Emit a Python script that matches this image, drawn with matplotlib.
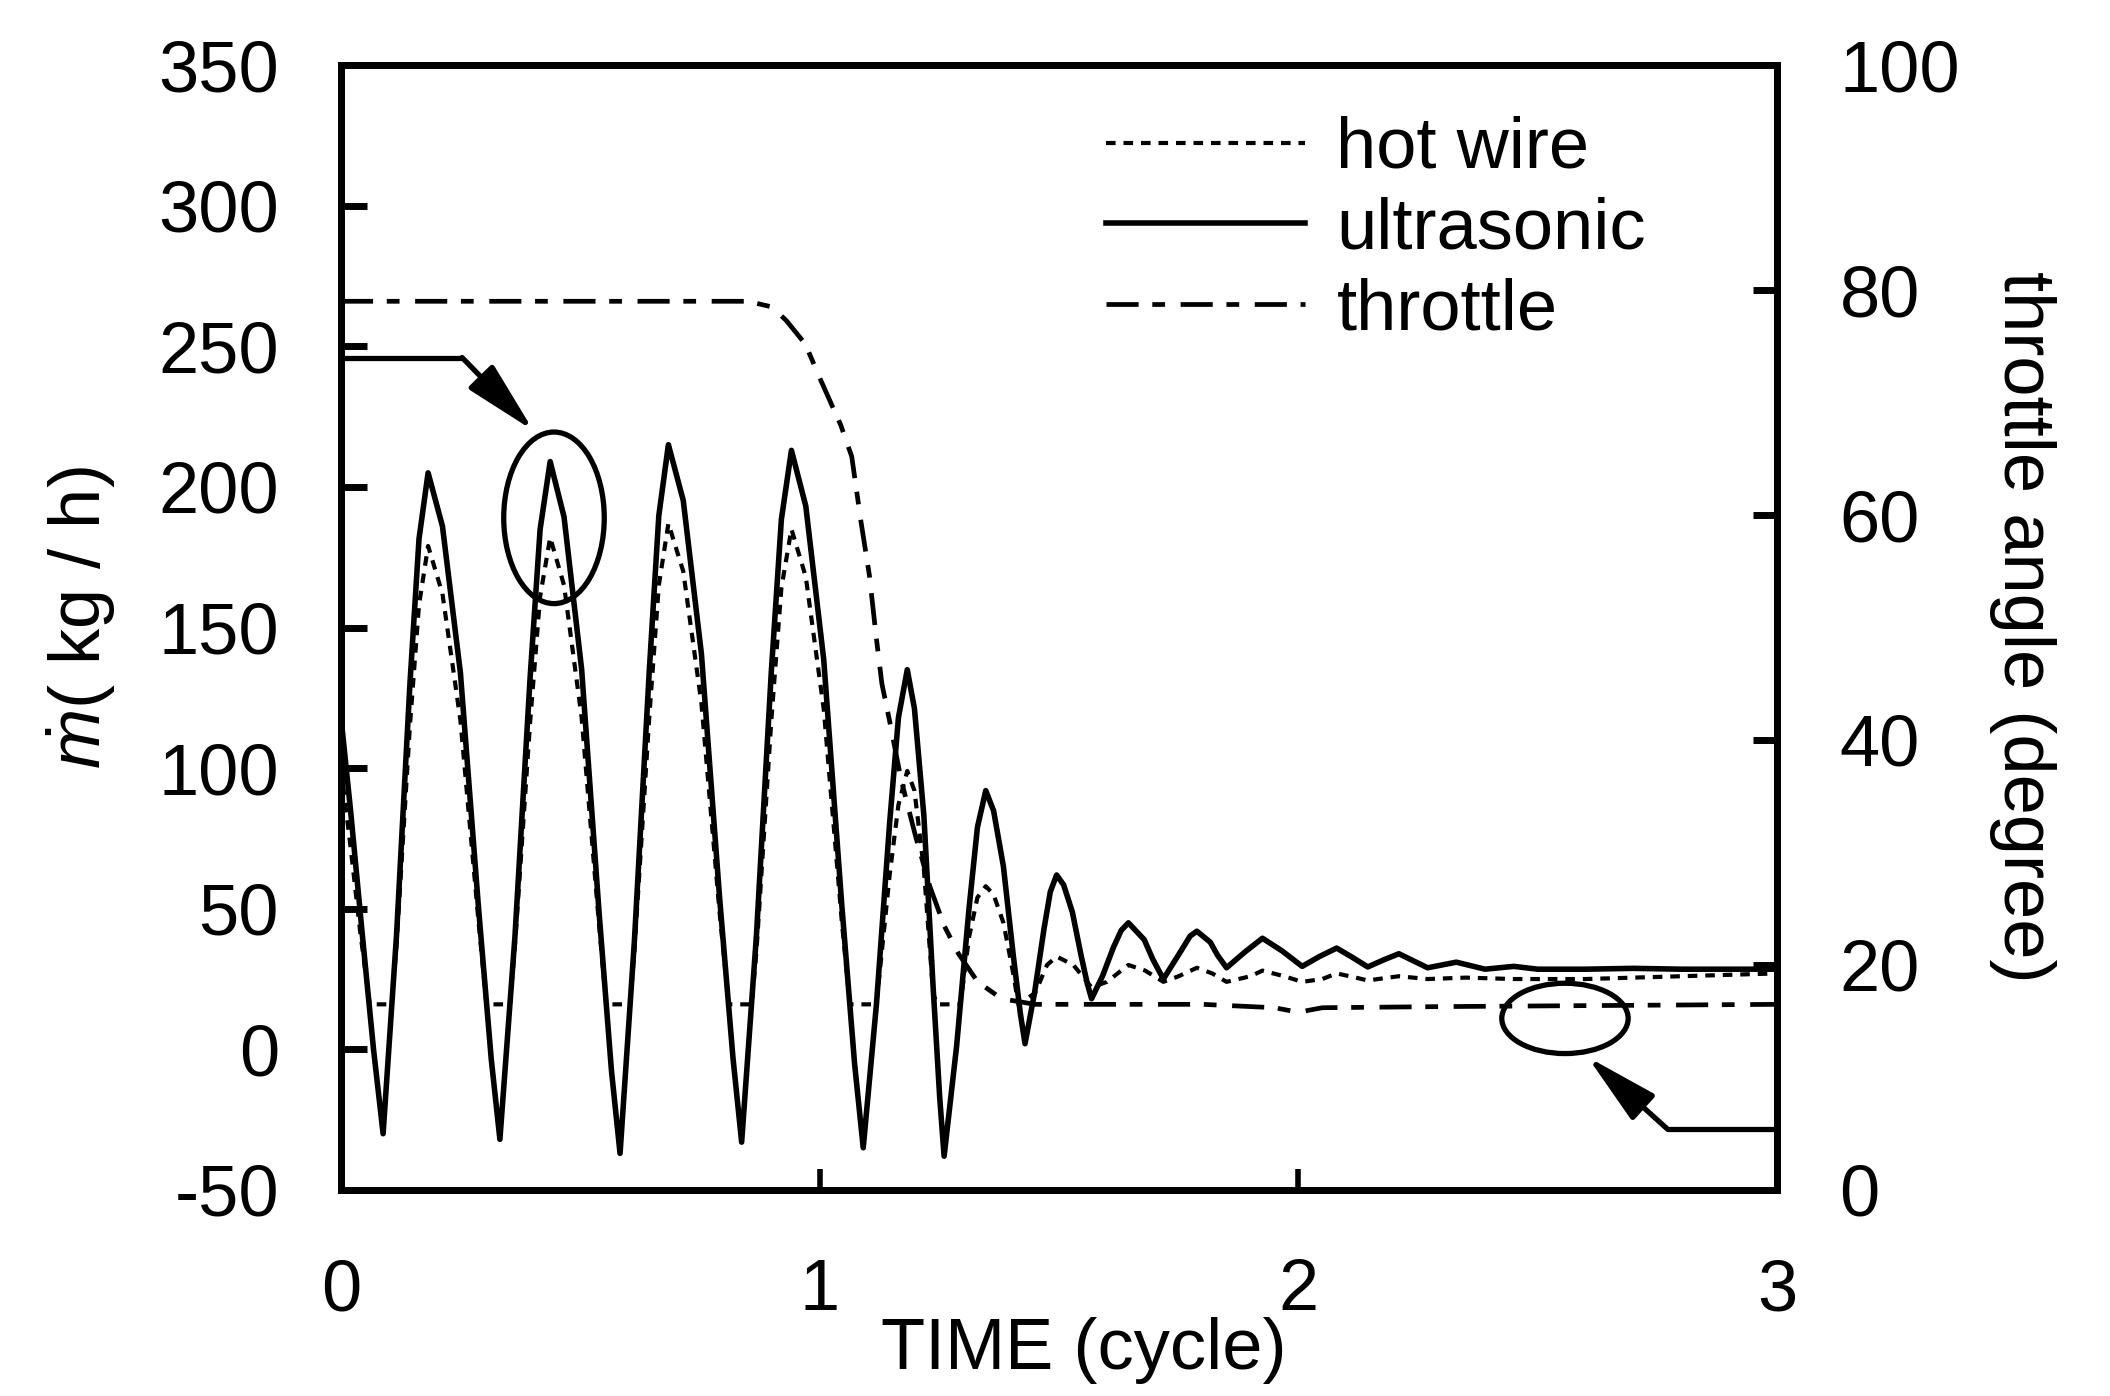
import matplotlib
matplotlib.use('Agg')
import matplotlib.pyplot as plt
from matplotlib.patches import Ellipse

plt.rcParams['font.family'] = ['Liberation Sans', 'DejaVu Sans']
plt.rcParams['mathtext.fontset'] = 'custom'
plt.rcParams['mathtext.it'] = 'Liberation Sans:italic'
plt.rcParams['mathtext.rm'] = 'Liberation Sans'

# ---------------- data ----------------
t_ultra = [0.000, 0.020, 0.045, 0.068, 0.088,
           0.116, 0.144, 0.163, 0.182,
           0.212, 0.2495, 0.287, 0.314, 0.332,
           0.3635, 0.395, 0.416, 0.437,
           0.466, 0.5027, 0.539, 0.565, 0.583,
           0.613, 0.644, 0.664, 0.684,
           0.715, 0.753, 0.791, 0.819, 0.837,
           0.868, 0.899, 0.920, 0.941,
           0.971, 1.0085, 1.046, 1.073, 1.091,
           1.1186, 1.1462, 1.1646, 1.183,
           1.198, 1.2177, 1.2369, 1.2508, 1.260,
           1.286, 1.3122, 1.3296, 1.347,
           1.3634, 1.3839, 1.4044, 1.4192, 1.429,
           1.4488, 1.4686, 1.4818, 1.495,
           1.5096, 1.5279, 1.5461, 1.5592, 1.568,
           1.591, 1.614, 1.630, 1.645,
           1.678, 1.696, 1.718,
           1.753, 1.774, 1.788,
           1.816, 1.831, 1.850,
           1.8875, 1.925,
           1.966, 2.008,
           2.044, 2.080,
           2.112, 2.145,
           2.178, 2.210,
           2.240, 2.270,
           2.330, 2.390, 2.450, 2.500, 2.600, 2.700, 2.800, 3.000]
v_ultra = [118, 85, 40, 0, -30,
           40.5, 129.8, 181.5, 205,
           186, 133.9, 51, -3.6, -32,
           40.3, 131.9, 184.9, 209,
           189.3, 135.2, 49.1, -7.5, -37,
           38.6, 134.4, 189.8, 215,
           195.2, 140.6, 53.8, -3.2, -33,
           40.8, 134.3, 188.4, 213,
           193.2, 138.6, 51.8, -5.2, -35,
           16, 80.6, 118, 135,
           121.2, 83.1, 22.5, -17.2, -38,
           1, 50.4, 79, 92,
           84.8, 65, 33.5, 12.8, 2,
           20, 42.8, 56, 62,
           58.5, 48.8, 33.4, 23.3, 18,
           26.1, 36.4, 42.3, 45,
           39, 32, 25,
           34.5, 40.3, 42,
           38.1, 33.5, 29,
           34.5, 39.5,
           35, 29.5,
           33, 36,
           32.8, 29.3,
           31.8, 34,
           31.5, 29,
           31, 28.5, 29.5, 28.5, 28.5, 28.8, 28.5, 28.5]

t_hot = [0.000, 0.020, 0.040, 0.060, 0.106,
         0.116, 0.144, 0.163, 0.182, 0.212, 0.2495, 0.287, 0.304,
         0.353, 0.3635, 0.395, 0.416, 0.437, 0.466, 0.5027, 0.539, 0.554,
         0.604, 0.613, 0.644, 0.664, 0.684, 0.715, 0.753, 0.791, 0.810,
         0.858, 0.868, 0.899, 0.920, 0.941, 0.971, 1.0085, 1.046, 1.063,
         1.1186, 1.1462, 1.1646, 1.183, 1.198, 1.2177, 1.237, 1.245,
         1.294, 1.3122, 1.3296, 1.347, 1.3634, 1.3839, 1.4044, 1.415,
         1.450, 1.475, 1.495, 1.530, 1.568, 1.600, 1.645, 1.680, 1.718,
         1.750, 1.788, 1.820, 1.850, 1.900, 1.925, 1.970, 2.008, 2.050,
         2.080, 2.120, 2.145, 2.210, 2.270, 2.350, 2.450, 2.600, 2.800, 3.000]
v_hot = [100, 72, 42, 16, 16,
         37, 115, 158, 179, 162, 117, 46, 16,
         16, 37, 116, 161, 182, 165, 118, 44.5, 16,
         16, 35, 118, 165, 187, 170, 123, 48.5, 16,
         16, 35, 117, 164, 185, 168, 121, 46, 16,
         16, 62, 87, 99, 92, 64, 20, 16,
         16, 40, 54, 58, 55, 45, 27, 16,
         20, 30, 33, 30, 22, 24, 30, 28, 24,
         26, 29, 27, 24, 26, 28, 26, 24, 25,
         27, 25.5, 24.5, 26, 25, 25.5, 25, 25, 26, 27]

t_throttle = [0.0, 0.85, 0.90, 0.93, 0.97, 1.00, 1.044, 1.067, 1.086, 1.104,
              1.118, 1.130, 1.147, 1.170, 1.200, 1.230, 1.260, 1.290, 1.330,
              1.380, 1.450, 1.600, 1.800, 1.950, 2.000, 2.050, 2.300, 3.000]
v_throttle = [79, 79, 78.5, 77.3, 75.2, 72.2, 68, 65.2, 59.5, 54.6,
              49.2, 45, 41.5, 36.5, 31.5, 27, 23.5, 21, 18.5,
              17, 16.5, 16.5, 16.5, 16.2, 15.8, 16.2, 16.3, 16.5]

legend_labels = ['hot wire', 'ultrasonic', 'throttle']
x_ticks = [0, 1, 2, 3]
y_ticks_left = [-50, 0, 50, 100, 150, 200, 250, 300, 350]
y_ticks_right = [0, 20, 40, 60, 80, 100]

# annotation anchors (data coordinates)
ell1_center, ell1_w, ell1_h = (0.445, 189), 0.21, 61
arrow1_path = [(0.0, 246), (0.253, 246), (0.402, 220)]
ell2_center, ell2_w, ell2_h = (2.557, 11), 0.264, 25
arrow2_path = [(3.0, -28.5), (2.772, -28.5), (2.604, -2.7)]

# ---------------- figure ----------------
FS = 52
fig = plt.figure(figsize=(21.1, 13.96), dpi=100)
ax = fig.add_axes([0.1616, 0.1476, 0.6806, 0.8058])
ax2 = ax.twinx()

l_ultra, = ax.plot(t_ultra, v_ultra, color='k', lw=4.0, solid_joinstyle='round')
l_hot, = ax.plot(t_hot, v_hot, color='k', lw=3.0, linestyle=(0, (2.3, 1.9)))
l_thr, = ax2.plot(t_throttle, v_throttle, color='k', lw=3.4,
                  linestyle=(0, (6.8, 2.9, 2.7, 3.3)))

ax.set_xlim(0, 3)
ax.set_ylim(-50, 350)
ax2.set_ylim(0, 100)
ax.set_xticks(x_ticks)
ax.set_xticklabels([str(v) for v in x_ticks])
ax.set_yticks(y_ticks_left)
ax.set_yticklabels([str(v) for v in y_ticks_left])
ax2.set_yticks(y_ticks_right)
ax2.set_yticklabels([str(v) for v in y_ticks_right])

ax.tick_params(axis='y', direction='in', length=19, width=5, pad=44.6,
               labelsize=FS, right=False)
ax.tick_params(axis='x', direction='in', length=15, width=4, pad=49,
               labelsize=FS, top=False)
ax2.tick_params(axis='y', direction='in', length=17, width=5, pad=45,
                labelsize=FS)
for a in (ax, ax2):
    for s in a.spines.values():
        s.set_linewidth(5)

# annotations
ax.add_patch(Ellipse(ell1_center, ell1_w, ell1_h, fill=False, lw=3.8, ec='k'))
ax.add_patch(Ellipse(ell2_center, ell2_w, ell2_h, fill=False, lw=3.8, ec='k'))
for path in (arrow1_path, arrow2_path):
    ax.plot([p[0] for p in path[:2]], [p[1] for p in path[:2]], color='k',
            lw=3.8, solid_capstyle='butt', clip_on=False)
    ax.annotate('', xy=path[2], xytext=path[1],
                arrowprops=dict(arrowstyle='-|>,head_length=1.5,head_width=0.35',
                                lw=3.8, color='k', shrinkA=0, shrinkB=0,
                                mutation_scale=30))

# labels
ax.set_xlabel('TIME (cycle)', fontsize=FS)
ax.xaxis.set_label_coords(0.517, -0.143)
ax.xaxis.label.set_va('center')
ax.set_ylabel(r'$\dot{m}$( kg / h)', fontsize=FS)
ax.yaxis.set_label_coords(-0.1804, 0.5084)
ax.yaxis.label.set_va('center')
ax2.set_ylabel('throttle angle (degree)', fontsize=FS, rotation=270)
ax2.yaxis.set_label_coords(1.1706, 0.501)
ax2.yaxis.label.set_va('center')
ax2.yaxis.label.set_ha('center')

leg = ax2.legend(handles=[l_hot, l_ultra, l_thr], labels=legend_labels,
                 loc='upper left', bbox_to_anchor=(0.5242, 0.917),
                 bbox_transform=fig.transFigure, frameon=False, fontsize=FS,
                 handlelength=2.76, handletextpad=0.43, labelspacing=0.19,
                 borderpad=0, borderaxespad=0)

fig.savefig('out.png', dpi=100)
